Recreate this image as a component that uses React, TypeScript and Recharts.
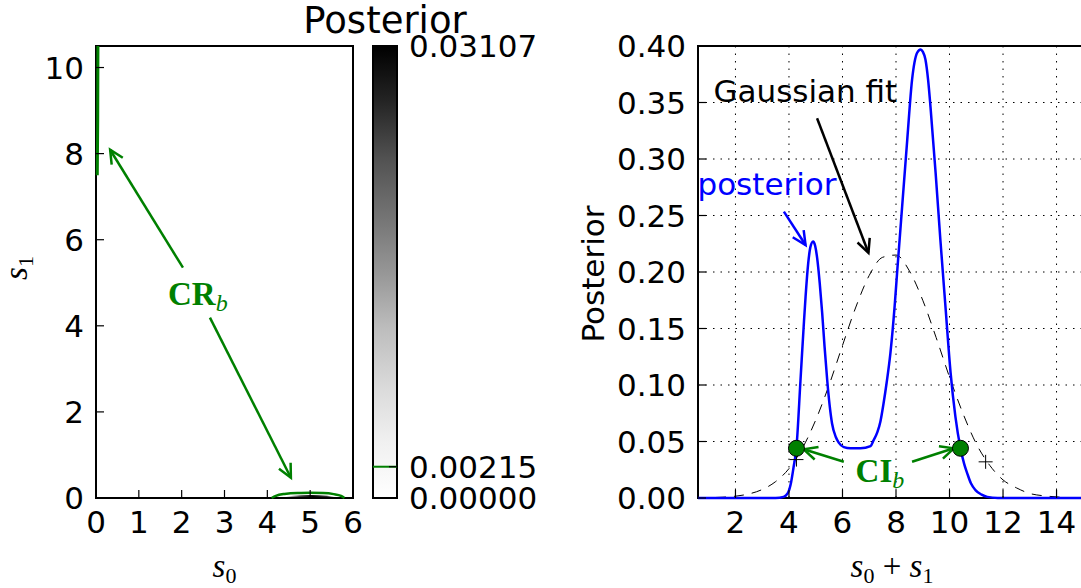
import React from 'react';
import {
  ComposedChart,
  BarChart,
  Bar,
  Line,
  Area,
  Scatter,
  XAxis,
  YAxis,
  CartesianGrid,
  ReferenceLine,
  ReferenceDot,
  ReferenceArea,
  Label,
} from 'recharts';

// Figura: posterior conjunto (s0, s1) con su barra de color, y posterior de s0+s1 con ajuste gaussiano.

const SANS = '"DejaVu Sans", sans-serif';
const SERIF = '"Liberation Serif", "DejaVu Serif", serif';
const GREEN = '#008000';
const BLUE = '#0000ff';
const TICK_LEN = 8;

// panel izquierdo: s0 contra s1
const s0Domain = [0, 6];
const s1Domain = [0, 10.5];
const s0Ticks = [0, 1, 2, 3, 4, 5, 6];
const s1Ticks = [0, 2, 4, 6, 8, 10];
const crBottomS0 = [4.1, 4.2, 4.4, 4.7, 5.0, 5.3, 5.55, 5.72, 5.8];
const crBottomS1 = [0, 0.05, 0.095, 0.118, 0.12, 0.115, 0.09, 0.05, 0];
const crEdgeS0 = [0.03, 0.04, 0.045];
const crEdgeS1 = [7.5, 8.8, 10.5];
const peakS0 = [4.35, 4.6, 5.0, 5.4, 5.65];
const peakS1 = [0, 0.05, 0.07, 0.05, 0];

// barra de color
const cbarMax = 0.03107;
const crLevel = 0.00215;
const cbarTicks = [0, crLevel, cbarMax];
const greys = ['#ffffff', '#f0f0f0', '#d9d9d9', '#bdbdbd', '#969696', '#737373', '#525252', '#252525', '#000000'];

// panel derecho: s0 + s1
const sumDomain = [0.6, 15.4];
const postDomain = [0, 0.4];
const sumTicks = [2, 4, 6, 8, 10, 12, 14];
const postTicks = [0, 0.05, 0.1, 0.15, 0.2, 0.25, 0.3, 0.35, 0.4];
const postX = [
  0.6, 3.5, 3.8, 3.95, 4.08, 4.17, 4.28, 4.43, 4.55, 4.62, 4.72, 4.8, 4.9, 4.98, 5.05, 5.15, 5.24, 5.33,
  5.43, 5.52, 5.61, 5.75, 5.86, 6.05, 6.3, 6.67, 7.05, 7.16, 7.3, 7.42, 7.53, 7.65, 7.79, 7.95, 8.04,
  8.23, 8.42, 8.6, 8.79, 8.92, 9.0, 9.1, 9.2, 9.29, 9.48, 9.66, 9.85, 10.04, 10.22, 10.41, 10.55, 10.66,
  10.8, 10.97, 11.2, 11.41, 11.8, 15.4,
];
const postY = [
  0, 0, 0.001, 0.004, 0.014, 0.027, 0.045, 0.104, 0.152, 0.178, 0.208, 0.222, 0.227, 0.223, 0.213, 0.19,
  0.164, 0.134, 0.104, 0.082, 0.066, 0.054, 0.049, 0.045, 0.044, 0.044, 0.046, 0.051, 0.058, 0.068, 0.083,
  0.102, 0.128, 0.17, 0.199, 0.258, 0.317, 0.37, 0.394, 0.397, 0.395, 0.388, 0.37, 0.346, 0.288, 0.228,
  0.169, 0.111, 0.072, 0.044, 0.03, 0.022, 0.013, 0.007, 0.003, 0.001, 0, 0,
];
const gaussX = [
  0.6, 1, 1.5, 2, 2.5, 3, 3.5, 4, 4.5, 5, 5.5, 6, 6.5, 7, 7.5, 8, 8.5, 9, 9.5, 10, 10.5, 11, 11.5, 12,
  12.5, 13, 13.5, 14, 14.5, 15, 15.4,
];
const gaussY = [
  0.0001, 0.0003, 0.0007, 0.0016, 0.0036, 0.0075, 0.0145, 0.026, 0.044, 0.069, 0.1, 0.135, 0.169, 0.197,
  0.213, 0.215, 0.201, 0.175, 0.142, 0.107, 0.075, 0.048, 0.029, 0.016, 0.009, 0.004, 0.002, 0.001,
  0.0003, 0.0001, 0,
];
const ciX = [4.28, 10.41];
const ciY = [0.044, 0.044];
const fitCiX = [4.28, 11.35];
const fitCiY = [0.034, 0.032];

const pts = (xs: number[], ys: number[]) => xs.map((x, i) => ({ x, y: ys[i] }));

type Side = 'bottom' | 'top' | 'left' | 'right';

// ticks hacia adentro, estilo matplotlib
const tickFactory = (side: Side, gap: number, fmt?: (v: number) => string) => (props: any) => {
  const { x, y, payload } = props;
  const label = fmt ? fmt(payload.value) : null;
  let line: React.ReactNode;
  let text: React.ReactNode = null;
  if (side === 'bottom') {
    line = <line x1={x} x2={x} y1={y - gap} y2={y - gap - TICK_LEN} />;
    if (label) text = <text x={x} y={y} textAnchor="middle">{label}</text>;
  } else if (side === 'top') {
    line = <line x1={x} x2={x} y1={y + gap} y2={y + gap + TICK_LEN} />;
  } else if (side === 'left') {
    line = <line x1={x + gap} x2={x + gap + TICK_LEN} y1={y} y2={y} />;
    if (label) text = <text x={x} y={y + 11} textAnchor="end">{label}</text>;
  } else {
    line = <line x1={x - gap} x2={x - gap - TICK_LEN} y1={y} y2={y} />;
    if (label) text = <text x={x} y={y + 11} textAnchor="start">{label}</text>;
  }
  return (
    <g>
      <g stroke="#000" strokeWidth={1.2}>{line}</g>
      {text && <g fill="#000" fontFamily={SANS} fontSize={31}>{text}</g>}
    </g>
  );
};

const arrowShape = (color: string, width: number) => (p: any) => {
  const { x1, y1, x2, y2 } = p;
  const a = Math.atan2(y2 - y1, x2 - x1);
  const L = 15;
  const s = 0.45;
  const h1 = `${x2 - L * Math.cos(a - s)},${y2 - L * Math.sin(a - s)}`;
  const h2 = `${x2 - L * Math.cos(a + s)},${y2 - L * Math.sin(a + s)}`;
  return (
    <g stroke={color} strokeWidth={width} fill="none">
      <line x1={x1} y1={y1} x2={x2} y2={y2} />
      <polyline points={`${h1} ${x2},${y2} ${h2}`} />
    </g>
  );
};

const textShape = (content: React.ReactNode, color: string, font: string, size: number) => (p: any) => (
  <text x={p.cx} y={p.cy} fill={color} fontFamily={font} fontSize={size}>
    {content}
  </text>
);

const boldSub = (main: string) => (
  <>
    <tspan fontWeight="bold">{main}</tspan>
    <tspan fontStyle="italic" fontSize={24} dy={6}>b</tspan>
  </>
);

const plusShape = (p: any) => (
  <g stroke="#000" strokeWidth={1}>
    <line x1={p.cx - 7} x2={p.cx + 7} y1={p.cy} y2={p.cy} />
    <line x1={p.cx} x2={p.cx} y1={p.cy - 7} y2={p.cy + 7} />
  </g>
);

const dotShape = (p: any) => <circle cx={p.cx} cy={p.cy} r={8} fill={GREEN} stroke="#000" strokeWidth={1} />;

function LeftPanel() {
  return (
    <ComposedChart width={372} height={588} margin={{ top: 46, right: 19, left: 0, bottom: 0 }}>
      <defs>
        <linearGradient id="peakFill" x1="0" y1="0" x2="1" y2="0">
          <stop offset="0" stopColor="#888" stopOpacity={0} />
          <stop offset="0.3" stopColor="#444" />
          <stop offset="0.55" stopColor="#000" />
          <stop offset="0.8" stopColor="#333" />
          <stop offset="1" stopColor="#888" stopOpacity={0} />
        </linearGradient>
      </defs>
      <XAxis
        dataKey="x"
        type="number"
        domain={s0Domain}
        ticks={s0Ticks}
        interval={0}
        height={90}
        axisLine={false}
        tickSize={0}
        tickMargin={35}
        tick={tickFactory('bottom', 35, (v) => String(v))}
      >
        <Label
          content={(p: any) => (
            <text x={p.viewBox.x + p.viewBox.width / 2} y={p.viewBox.y + 79} textAnchor="middle" fontFamily={SERIF} fontSize={33}>
              <tspan fontStyle="italic">s</tspan>
              <tspan fontSize={22} dy={6}>0</tspan>
            </text>
          )}
        />
      </XAxis>
      <XAxis xAxisId="top" orientation="top" type="number" domain={s0Domain} ticks={s0Ticks} interval={0} height={0} axisLine={false} tickSize={0} tick={tickFactory('top', 0)} />
      <YAxis
        type="number"
        domain={s1Domain}
        ticks={s1Ticks}
        interval={0}
        width={96}
        axisLine={false}
        tickSize={0}
        tickMargin={12}
        tick={tickFactory('left', 12, (v) => String(v))}
      >
        <Label
          content={(p: any) => (
            <text transform={`translate(${p.viewBox.x + 27},${p.viewBox.y + 222}) rotate(-90)`} textAnchor="middle" fontFamily={SERIF} fontSize={33}>
              <tspan fontStyle="italic">s</tspan>
              <tspan fontSize={22} dy={6}>1</tspan>
            </text>
          )}
        />
      </YAxis>
      <YAxis yAxisId="right" orientation="right" type="number" domain={s1Domain} ticks={s1Ticks} interval={0} width={0} axisLine={false} tickSize={0} tick={tickFactory('right', 0)} />

      <Area data={pts(peakS0, peakS1)} dataKey="y" type="monotone" stroke="none" fill="url(#peakFill)" fillOpacity={1} isAnimationActive={false} />
      <Line data={pts(crBottomS0, crBottomS1)} dataKey="y" type="monotone" stroke={GREEN} strokeWidth={2.5} dot={false} isAnimationActive={false} />
      <Line data={pts(crEdgeS0, crEdgeS1)} dataKey="y" type="linear" stroke={GREEN} strokeWidth={3} dot={false} isAnimationActive={false} />

      <ReferenceArea x1={0} x2={6} y1={0} y2={10.5} fill="none" stroke="#000" strokeWidth={2} ifOverflow="visible" />

      <ReferenceLine segment={[{ x: 2.03, y: 5.35 }, { x: 0.33, y: 8.09 }]} ifOverflow="visible" shape={arrowShape(GREEN, 2.5)} />
      <ReferenceLine segment={[{ x: 2.66, y: 4.19 }, { x: 4.55, y: 0.47 }]} ifOverflow="visible" shape={arrowShape(GREEN, 2.5)} />
      <ReferenceDot x={1.68} y={4.49} r={0} ifOverflow="visible" shape={textShape(boldSub('CR'), GREEN, SERIF, 33)} />
    </ComposedChart>
  );
}

function ColorBar() {
  return (
    <BarChart width={280} height={588} data={[{ name: 'cb', v: cbarMax }]} barCategoryGap={0} margin={{ top: 46, right: 0, left: 93, bottom: 90 }}>
      <defs>
        <linearGradient id="greys" x1="0" y1="1" x2="0" y2="0">
          {greys.map((c, i) => (
            <stop key={c} offset={i / (greys.length - 1)} stopColor={c} />
          ))}
        </linearGradient>
      </defs>
      <XAxis dataKey="name" hide />
      <YAxis
        orientation="right"
        type="number"
        domain={[0, cbarMax]}
        ticks={cbarTicks}
        interval={0}
        width={163}
        axisLine={false}
        tickSize={0}
        tickMargin={12}
        tick={tickFactory('right', 12, (v) => v.toFixed(5))}
      >
        <Label
          content={(p: any) => (
            <text x={p.viewBox.x - 12} y={p.viewBox.y - 13} textAnchor="middle" fontFamily={SANS} fontSize={37}>
              Posterior
            </text>
          )}
        />
      </YAxis>
      <Bar dataKey="v" fill="url(#greys)" stroke="#000" strokeWidth={2} isAnimationActive={false} />
      <ReferenceLine y={crLevel} stroke={GREEN} strokeWidth={2} />
    </BarChart>
  );
}

function RightPanel() {
  return (
    <ComposedChart width={540} height={588} margin={{ top: 46, right: 6, left: 0, bottom: 0 }}>
      <CartesianGrid stroke="#000" strokeWidth={1} strokeDasharray="1.5 6" />
      <XAxis
        dataKey="x"
        type="number"
        domain={sumDomain}
        ticks={sumTicks}
        interval={0}
        height={90}
        axisLine={false}
        tickSize={0}
        tickMargin={35}
        tick={tickFactory('bottom', 35, (v) => String(v))}
      >
        <Label
          content={(p: any) => (
            <text x={p.viewBox.x + p.viewBox.width / 2 - 4} y={p.viewBox.y + 79} textAnchor="middle" fontFamily={SERIF} fontSize={33}>
              <tspan fontStyle="italic">s</tspan>
              <tspan fontSize={22} dy={6}>0</tspan>
              <tspan dy={-6}>{'\u2005+\u2005'}</tspan>
              <tspan fontStyle="italic">s</tspan>
              <tspan fontSize={22} dy={6}>1</tspan>
            </text>
          )}
        />
      </XAxis>
      <XAxis xAxisId="top" orientation="top" type="number" domain={sumDomain} ticks={sumTicks} interval={0} height={0} axisLine={false} tickSize={0} tick={tickFactory('top', 0)} />
      <YAxis
        type="number"
        domain={postDomain}
        ticks={postTicks}
        interval={0}
        width={138}
        axisLine={false}
        tickSize={0}
        tickMargin={12}
        tick={tickFactory('left', 12, (v) => v.toFixed(2))}
      >
        <Label
          content={(p: any) => (
            <text transform={`translate(${p.viewBox.x + 44},${p.viewBox.y + 228}) rotate(-90)`} textAnchor="middle" fontFamily={SANS} fontSize={31}>
              Posterior
            </text>
          )}
        />
      </YAxis>
      <YAxis yAxisId="right" orientation="right" type="number" domain={postDomain} ticks={postTicks} interval={0} width={0} axisLine={false} tickSize={0} tick={tickFactory('right', 0)} />

      <ReferenceArea x1={sumDomain[0]} x2={sumDomain[1]} y1={0} y2={0.4} fill="none" stroke="#000" strokeWidth={2} ifOverflow="visible" />

      <Line data={pts(gaussX, gaussY)} dataKey="y" type="monotone" stroke="#000" strokeWidth={1} strokeDasharray="10 8" dot={false} isAnimationActive={false} />
      <Line data={pts(postX, postY)} dataKey="y" type="monotone" stroke={BLUE} strokeWidth={2.5} dot={false} isAnimationActive={false} />
      <Scatter data={pts(fitCiX, fitCiY)} dataKey="y" shape={plusShape} isAnimationActive={false} />
      <Scatter data={pts(ciX, ciY)} dataKey="y" shape={dotShape} isAnimationActive={false} />

      <ReferenceLine segment={[{ x: 5.05, y: 0.336 }, { x: 6.97, y: 0.217 }]} ifOverflow="visible" shape={arrowShape('#000', 2.5)} />
      <ReferenceLine segment={[{ x: 3.81, y: 0.2534 }, { x: 4.62, y: 0.2239 }]} ifOverflow="visible" shape={arrowShape(BLUE, 2.5)} />
      <ReferenceLine segment={[{ x: 6.05, y: 0.0321 }, { x: 4.55, y: 0.0431 }]} ifOverflow="visible" shape={arrowShape(GREEN, 2.5)} />
      <ReferenceLine segment={[{ x: 8.6, y: 0.0321 }, { x: 10.16, y: 0.044 }]} ifOverflow="visible" shape={arrowShape(GREEN, 2.5)} />

      <ReferenceDot x={1.18} y={0.3504} r={0} ifOverflow="visible" shape={textShape('Gaussian fit', '#000', SANS, 31)} />
      <ReferenceDot x={0.58} y={0.268} r={0} ifOverflow="visible" shape={textShape('posterior', BLUE, SANS, 31)} />
      <ReferenceDot x={6.49} y={0.0142} r={0} ifOverflow="visible" shape={textShape(boldSub('CI'), GREEN, SERIF, 33)} />
    </ComposedChart>
  );
}

export default function App() {
  return (
    <div style={{ position: 'absolute', left: 0, top: 0, width: 1081, height: 588, overflow: 'hidden', background: '#fff' }}>
      <div style={{ position: 'absolute', left: 0, top: 0 }}>
        <LeftPanel />
      </div>
      <div style={{ position: 'absolute', left: 280, top: 0 }}>
        <ColorBar />
      </div>
      <div style={{ position: 'absolute', left: 560, top: 0 }}>
        <RightPanel />
      </div>
    </div>
  );
}
